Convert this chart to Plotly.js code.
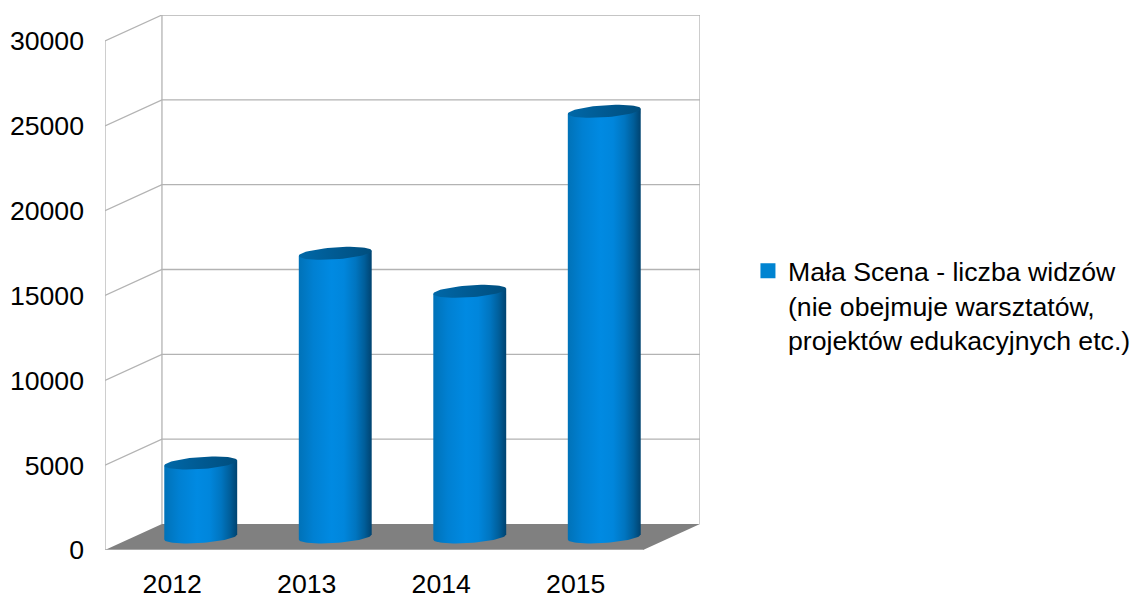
<!DOCTYPE html>
<html><head><meta charset="utf-8">
<script src="https://cdn.plot.ly/plotly-3.0.1.min.js"></script>
<style>html,body{margin:0;padding:0;background:#fff}#c{width:1135px;height:597px}</style>
</head><body><div id="c"></div>
<script>
const categories = ['2012','2013','2014','2015'];
const audience = [4360, 16720, 14480, 25090];
const seriesName = 'Mała Scena - liczba widzów<br>(nie obejmuje warsztatów,<br>projektów edukacyjnych etc.)';
const gridValues = [0,5000,10000,15000,20000,25000,30000];

// pseudo-3D box: depth offset in axis units
const depthX = 0.4235, depthY = 1533;
const xLeft = -0.5, xRight = 3.5;
const capW = 0.271, capRise = 150, capDepth = 355, midDepth = 0.5;
const gridColor = '#b3b3b3', floorColor = '#808080', legendColor = '#0084d1';
const capScale = [[0,'#0068a8'],[0.5,'#005a92'],[1,'#004e7e']];
const bodyScale = [[0,'#0072b8'],[0.2,'#0080d2'],[0.45,'#008ae2'],[0.62,'#0086dc'],[0.78,'#0075c0'],[0.9,'#005e9a'],[1,'#004370']];

const traces = [];
// legend-only bar
traces.push({type:'bar', x:[null], y:[null], name:seriesName, showlegend:true,
  marker:{color:legendColor, line:{color:legendColor,width:3}}, hoverinfo:'skip'});
function line(xs,ys,w){traces.push({type:'scatter',mode:'lines',x:xs,y:ys,showlegend:false,hoverinfo:'skip',cliponaxis:false,
  line:{color:gridColor,width:w||1.3}});}
// floor
traces.push({type:'scatter',mode:'lines',x:[xLeft,xRight,xRight+depthX,xLeft+depthX,xLeft],y:[0,0,depthY,depthY,0],
  fill:'toself',fillcolor:floorColor,line:{width:0,color:floorColor},showlegend:false,hoverinfo:'skip',cliponaxis:false});
// walls
const topValue = gridValues[gridValues.length-1];
gridValues.forEach(v=>{
  if(v>0) line([xLeft,xLeft+depthX,xRight+depthX],[v,v+depthY,v+depthY]);
});
line([xLeft,xLeft],[0,topValue]);
line([xLeft+depthX,xLeft+depthX],[depthY,topValue+depthY]);
line([xRight+depthX,xRight+depthX],[depthY,topValue+depthY]);
line([xLeft,xRight],[0,0]);
// cylinders
function ell(cx,cy,t0,t1,n){const xs=[],ys=[];for(let i=0;i<=n;i++){const t=t0+(t1-t0)*i/n;
  xs.push(cx+capW*Math.cos(t)); ys.push(cy+capRise*Math.cos(t)+capDepth*Math.sin(t));}return [xs,ys];}
categories.forEach((c,i)=>{
  const cx=i+depthX*midDepth, y0=depthY*midDepth, y1=audience[i]+y0;
  const lower=ell(cx,y0,Math.PI,2*Math.PI,40);   // left to right along the front of the base
  const px=[...lower[0],cx+capW,cx-capW,lower[0][0]];
  const py=[...lower[1],y1+capRise,y1-capRise,lower[1][0]];
  traces.push({type:'scatter',mode:'lines',x:px,y:py,fill:'toself',
    fillgradient:{type:'horizontal',colorscale:bodyScale},line:{width:0,color:'#0084d1'},showlegend:false,hoverinfo:'skip',cliponaxis:false});
  const cap=ell(cx,y1,0,2*Math.PI,60);
  traces.push({type:'scatter',mode:'lines',x:cap[0],y:cap[1],fill:'toself',fillgradient:{type:'horizontal',colorscale:capScale},line:{width:0,color:'#005a92'},showlegend:false,hoverinfo:'skip',cliponaxis:false});
});
const font={family:'"Liberation Sans",Arial,sans-serif',size:26.67,color:'#000'};
Plotly.newPlot('c',traces,{
  width:1135,height:597,paper_bgcolor:'#fff',plot_bgcolor:'#fff',showlegend:true,font:font,
  margin:{l:104.5,r:435,t:15,b:47,pad:0,autoexpand:false},
  xaxis:{type:'linear',range:[xLeft,xRight+depthX],tickmode:'array',tickvals:categories.map((c,i)=>i),ticktext:categories,
    showgrid:false,zeroline:false,showline:false,ticks:'',ticklabelstandoff:15,tickfont:font,fixedrange:true},
  yaxis:{range:[0,topValue+depthY],tickmode:'array',tickvals:gridValues,ticktext:gridValues.map(String),
    showgrid:false,zeroline:false,showline:false,ticks:'',ticklabelstandoff:20,tickfont:font,fixedrange:true},
  legend:{x:1.0806,xanchor:'left',y:0.5665,yanchor:'top',valign:'top',bgcolor:'rgba(0,0,0,0)',borderwidth:0,font:font,itemclick:false,itemdoubleclick:false}
},{staticPlot:true,displayModeBar:false});
</script></body></html>
